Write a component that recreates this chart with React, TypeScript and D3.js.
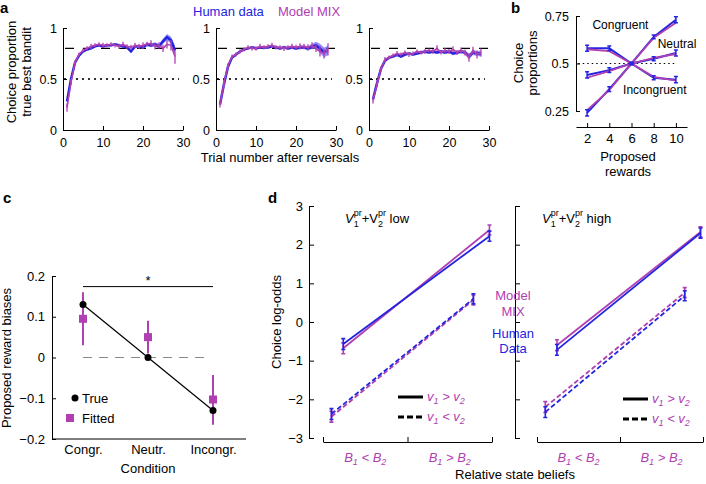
import React, { useEffect, useRef } from 'react';
import * as d3 from 'd3';

const FONT = "'Liberation Sans', Arial, Helvetica, sans-serif";
const BLUE = '#2424e0';
const PURPLE = '#b040b2';
const BAND = '#6a6aff';

// ---- panel a: choice proportion of the true best bandit, 3 sessions ----
const trials = d3.range(1, 29);
const humanA1 = [0.28, 0.5, 0.66, 0.73, 0.77, 0.79, 0.8, 0.82, 0.83, 0.82, 0.83, 0.83, 0.84, 0.83, 0.82, 0.81, 0.77, 0.82, 0.82, 0.81, 0.84, 0.83, 0.84, 0.82, 0.87, 0.91, 0.88, 0.78];
const semA1 = [0.02, 0.02, 0.015, 0.015, 0.012, 0.012, 0.012, 0.012, 0.012, 0.012, 0.012, 0.012, 0.013, 0.013, 0.014, 0.014, 0.015, 0.015, 0.016, 0.016, 0.017, 0.018, 0.02, 0.022, 0.025, 0.03, 0.035, 0.045];
const modelA1 = [0.22, 0.47, 0.66, 0.74, 0.78, 0.8, 0.82, 0.83, 0.84, 0.83, 0.83, 0.84, 0.83, 0.82, 0.84, 0.82, 0.81, 0.83, 0.82, 0.83, 0.84, 0.85, 0.82, 0.83, 0.8, 0.84, 0.83, 0.72];
const errA1 = [0.04, 0.03, 0.025, 0.02, 0.02, 0.02, 0.025, 0.02, 0.02, 0.025, 0.02, 0.02, 0.02, 0.025, 0.025, 0.02, 0.025, 0.025, 0.025, 0.03, 0.025, 0.03, 0.03, 0.03, 0.035, 0.04, 0.05, 0.07];

const humanA2 = [0.25, 0.45, 0.62, 0.71, 0.74, 0.77, 0.79, 0.8, 0.81, 0.8, 0.81, 0.81, 0.81, 0.82, 0.81, 0.8, 0.81, 0.8, 0.81, 0.8, 0.81, 0.81, 0.8, 0.82, 0.83, 0.8, 0.76, 0.78];
const semA2 = [0.02, 0.02, 0.015, 0.012, 0.012, 0.012, 0.012, 0.012, 0.012, 0.012, 0.012, 0.012, 0.013, 0.013, 0.013, 0.014, 0.014, 0.015, 0.015, 0.016, 0.017, 0.018, 0.02, 0.025, 0.035, 0.045, 0.05, 0.045];
const modelA2 = [0.25, 0.46, 0.63, 0.72, 0.74, 0.77, 0.79, 0.81, 0.8, 0.8, 0.82, 0.81, 0.82, 0.83, 0.81, 0.81, 0.8, 0.81, 0.82, 0.81, 0.82, 0.82, 0.81, 0.83, 0.8, 0.77, 0.75, 0.79];
const errA2 = [0.03, 0.03, 0.025, 0.02, 0.02, 0.02, 0.02, 0.02, 0.02, 0.02, 0.025, 0.02, 0.02, 0.025, 0.02, 0.02, 0.025, 0.02, 0.025, 0.025, 0.03, 0.025, 0.03, 0.03, 0.035, 0.05, 0.05, 0.06];

const humanA3 = [0.3, 0.46, 0.6, 0.68, 0.71, 0.72, 0.74, 0.72, 0.74, 0.75, 0.74, 0.75, 0.76, 0.77, 0.76, 0.77, 0.76, 0.77, 0.76, 0.77, 0.75, 0.76, 0.77, 0.76, 0.72, 0.76, 0.75, 0.75];
const semA3 = [0.02, 0.02, 0.015, 0.015, 0.012, 0.012, 0.012, 0.012, 0.012, 0.012, 0.012, 0.012, 0.013, 0.013, 0.013, 0.014, 0.014, 0.015, 0.015, 0.016, 0.016, 0.017, 0.018, 0.02, 0.03, 0.025, 0.025, 0.03];
const modelA3 = [0.29, 0.45, 0.6, 0.69, 0.71, 0.73, 0.75, 0.74, 0.76, 0.74, 0.75, 0.77, 0.76, 0.77, 0.78, 0.77, 0.8, 0.76, 0.78, 0.77, 0.79, 0.76, 0.78, 0.76, 0.71, 0.78, 0.74, 0.76];
const errA3 = [0.03, 0.03, 0.025, 0.025, 0.02, 0.02, 0.025, 0.02, 0.02, 0.025, 0.02, 0.02, 0.02, 0.025, 0.02, 0.025, 0.03, 0.02, 0.025, 0.025, 0.03, 0.025, 0.03, 0.03, 0.04, 0.035, 0.04, 0.04];

// ---- panel b: choice proportions vs proposed rewards ----
const rewards = [2, 4, 6, 8, 10];
const bRiseHuman = [0.24, 0.365, 0.5, 0.64, 0.73];
const bRiseModel = [0.255, 0.36, 0.5, 0.635, 0.715];
const bNeutHuman = [0.44, 0.465, 0.5, 0.525, 0.555];
const bNeutModel = [0.425, 0.46, 0.5, 0.53, 0.55];
const bFallHuman = [0.58, 0.58, 0.5, 0.425, 0.415];
const bFallModel = [0.575, 0.565, 0.5, 0.43, 0.41];
const bErr = [0.016, 0.012, 0.005, 0.01, 0.016];

// ---- panel c: proposed reward biases ----
const conditions = ['Congr.', 'Neutr.', 'Incongr.'];
const trueBias = [0.13, 0, -0.13];
const fittedBias = [0.095, 0.05, -0.103];
const fittedLow = [0.03, 0.01, -0.165];
const fittedHigh = [0.16, 0.09, -0.043];

// ---- panel d: choice log-odds ----
const beliefs = ['B1 < B2', 'B1 > B2'];
const dLowSolidHuman = [-0.57, 2.22];
const dLowSolidModel = [-0.68, 2.38];
const dLowDashHuman = [-2.38, 0.6];
const dLowDashModel = [-2.45, 0.57];
const dHighSolidHuman = [-0.72, 2.3];
const dHighSolidModel = [-0.6, 2.33];
const dHighDashHuman = [-2.33, 0.68];
const dHighDashModel = [-2.2, 0.76];
const dErr = [0.14, 0.13];

const styleAxis = (g: any, size: number) => {
  g.attr('font-family', FONT).attr('font-size', size);
  g.selectAll('path.domain, .tick line').attr('stroke', '#000').attr('stroke-width', 1);
  g.selectAll('text').attr('fill', '#000');
};

const App = () => {
  const svgRef = useRef<SVGSVGElement>(null);

  useEffect(() => {
    const svg = d3.select(svgRef.current);
    svg.selectAll('*').remove();
    svg.attr('font-family', FONT);

    // ================= panel a =================
    const yA = d3.scaleLinear().domain([0, 1]).range([130, 28]);
    const subs = [
      { x0: 63, human: humanA1, sem: semA1, model: modelA1, err: errA1 },
      { x0: 216, human: humanA2, sem: semA2, model: modelA2, err: errA2 },
      { x0: 369, human: humanA3, sem: semA3, model: modelA3, err: errA3 },
    ];
    subs.forEach(s => {
      const xA = d3.scaleLinear().domain([0, 30]).range([s.x0, s.x0 + 120]);
      const g = svg.append('g');

      // reference lines
      g.append('line').attr('x1', xA(0.5)).attr('x2', xA(30)).attr('y1', yA(0.8)).attr('y2', yA(0.8))
        .attr('stroke', '#000').attr('stroke-width', 1.2).attr('stroke-dasharray', '9,9');
      g.append('line').attr('x1', xA(0.3)).attr('x2', xA(29)).attr('y1', yA(0.5)).attr('y2', yA(0.5))
        .attr('stroke', '#000').attr('stroke-width', 2).attr('stroke-dasharray', '1.6,4.4');

      // human band + line
      const area = d3.area<number>()
        .x(t => xA(t))
        .y0((t, i) => yA(s.human[i] - s.sem[i]))
        .y1((t, i) => yA(s.human[i] + s.sem[i]));
      g.append('path').datum(trials).attr('d', area).attr('fill', BAND).attr('opacity', 0.75);
      const lineH = d3.line<number>().x(t => xA(t)).y((t, i) => yA(s.human[i]));
      g.append('path').datum(trials).attr('d', lineH).attr('fill', 'none').attr('stroke', BLUE).attr('stroke-width', 2.5);

      // model line + error bars
      const lineM = d3.line<number>().x(t => xA(t)).y((t, i) => yA(s.model[i]));
      g.selectAll('.errA').data(trials).enter().append('line')
        .attr('x1', t => xA(t)).attr('x2', t => xA(t))
        .attr('y1', (t, i) => yA(s.model[i] - s.err[i]))
        .attr('y2', (t, i) => yA(s.model[i] + s.err[i]))
        .attr('stroke', PURPLE).attr('stroke-width', 1.3);
      g.append('path').datum(trials).attr('d', lineM).attr('fill', 'none').attr('stroke', PURPLE).attr('stroke-width', 1.6);

      // axes
      g.append('g').attr('transform', `translate(${s.x0},0)`)
        .call(d3.axisLeft(yA).tickValues([0, 0.5, 1]).tickFormat(d => String(d)).tickSizeInner(-4).tickSizeOuter(0).tickPadding(6))
        .call(a => styleAxis(a, 12.5));
      g.append('g').attr('transform', 'translate(0,130)')
        .call(d3.axisBottom(xA).tickValues([0, 10, 20, 30]).tickFormat(d => String(d)).tickSizeInner(-4).tickSizeOuter(0).tickPadding(8))
        .call(a => styleAxis(a, 12.5));
    });

    svg.append('text').attr('x', 0).attr('y', 13).attr('font-size', 15).attr('font-weight', 'bold').text('a');
    svg.append('text').attr('transform', 'translate(16,72) rotate(-90)').attr('text-anchor', 'middle')
      .attr('font-size', 13).text('Choice proportion');
    svg.append('text').attr('transform', 'translate(31,72) rotate(-90)').attr('text-anchor', 'middle')
      .attr('font-size', 13).text('true best bandit');
    svg.append('text').attr('x', 280).attr('y', 162).attr('text-anchor', 'middle').attr('font-size', 13)
      .text('Trial number after reversals');
    svg.append('text').attr('x', 193).attr('y', 16).attr('font-size', 13).attr('fill', BLUE).text('Human data');
    svg.append('text').attr('x', 278).attr('y', 16).attr('font-size', 13).attr('fill', PURPLE).text('Model MIX');

    // ================= panel b =================
    const xB = d3.scaleLinear().domain([1, 11]).range([576, 687]);
    const yB = d3.scaleLinear().domain([0.25, 0.75]).range([111, 16]);
    const gb = svg.append('g');
    gb.append('line').attr('x1', xB(1.2)).attr('x2', xB(10)).attr('y1', yB(0.5)).attr('y2', yB(0.5))
      .attr('stroke', '#000').attr('stroke-width', 1).attr('stroke-dasharray', '1.5,3');
    const lineB = (vals: number[]) => d3.line<number>().x(r => xB(r)).y((r, i) => yB(vals[i]))(rewards);
    [bRiseHuman, bNeutHuman, bFallHuman].forEach(v => {
      gb.append('path').attr('d', lineB(v)).attr('fill', 'none').attr('stroke', BLUE).attr('stroke-width', 2);
    });
    [bRiseModel, bNeutModel, bFallModel].forEach(v => {
      gb.append('path').attr('d', lineB(v)).attr('fill', 'none').attr('stroke', PURPLE).attr('stroke-width', 1.8);
    });
    [bRiseHuman, bNeutHuman, bFallHuman].forEach(v => {
      rewards.forEach((r, i) => {
        const x = xB(r), lo = yB(v[i] - bErr[i]), hi = yB(v[i] + bErr[i]);
        gb.append('path').attr('d', `M${x},${lo}V${hi}M${x - 2},${lo}H${x + 2}M${x - 2},${hi}H${x + 2}`)
          .attr('stroke', BLUE).attr('stroke-width', 1.5).attr('fill', 'none');
      });
    });
    gb.append('g').attr('transform', 'translate(576,0)')
      .call(d3.axisLeft(yB).tickValues([0.25, 0.5, 0.75]).tickFormat(d => String(d)).tickSizeInner(-4).tickSizeOuter(0).tickPadding(7))
      .call(a => styleAxis(a, 12.5));
    gb.append('g').attr('transform', 'translate(0,127)')
      .call(d3.axisBottom(xB).tickValues(rewards).tickFormat(d => String(d)).tickSizeInner(-4).tickSizeOuter(0).tickPadding(7))
      .call(a => styleAxis(a, 13));
    gb.append('text').attr('x', xB(5)).attr('y', yB(0.703) + 4).attr('text-anchor', 'middle').attr('font-size', 12).text('Congruent');
    gb.append('text').attr('x', xB(10.1)).attr('y', yB(0.603) + 4).attr('text-anchor', 'middle').attr('font-size', 12).text('Neutral');
    gb.append('text').attr('x', xB(8.1)).attr('y', yB(0.36) + 4).attr('text-anchor', 'middle').attr('font-size', 12).text('Incongruent');
    svg.append('text').attr('x', 511).attr('y', 13).attr('font-size', 15).attr('font-weight', 'bold').text('b');
    svg.append('text').attr('transform', 'translate(523,63) rotate(-90)').attr('text-anchor', 'middle').attr('font-size', 13).text('Choice');
    svg.append('text').attr('transform', 'translate(537,63) rotate(-90)').attr('text-anchor', 'middle').attr('font-size', 13).text('proportions');
    svg.append('text').attr('x', 628).attr('y', 161).attr('text-anchor', 'middle').attr('font-size', 13).text('Proposed');
    svg.append('text').attr('x', 628).attr('y', 176).attr('text-anchor', 'middle').attr('font-size', 13).text('rewards');

    // ================= panel c =================
    const xC = d3.scalePoint<string>().domain(conditions).range([83, 213]);
    const yC = d3.scaleLinear().domain([-0.2, 0.2]).range([439, 276]);
    const gc = svg.append('g');
    gc.append('line').attr('x1', xC('Congr.')!).attr('x2', 208).attr('y1', yC(0)).attr('y2', yC(0))
      .attr('stroke', '#888').attr('stroke-width', 1.2).attr('stroke-dasharray', '9,7');
    gc.append('line').attr('x1', xC('Congr.')!).attr('x2', xC('Incongr.')!).attr('y1', yC(0.174)).attr('y2', yC(0.174))
      .attr('stroke', '#000').attr('stroke-width', 1);
    gc.append('text').attr('x', xC('Neutr.')!).attr('y', yC(0.174) - 2).attr('text-anchor', 'middle').attr('font-size', 13).text('*');
    gc.append('path').datum(conditions)
      .attr('d', d3.line<string>().x(c => xC(c)!).y((c, i) => yC(trueBias[i])))
      .attr('fill', 'none').attr('stroke', '#000').attr('stroke-width', 1.2);
    gc.selectAll('.errC').data(conditions).enter().append('line')
      .attr('x1', c => xC(c)!).attr('x2', c => xC(c)!)
      .attr('y1', (c, i) => yC(fittedLow[i])).attr('y2', (c, i) => yC(fittedHigh[i]))
      .attr('stroke', PURPLE).attr('stroke-width', 2);
    gc.selectAll('.sq').data(conditions).enter().append('rect')
      .attr('x', c => xC(c)! - 4).attr('y', (c, i) => yC(fittedBias[i]) - 4)
      .attr('width', 8).attr('height', 8).attr('fill', PURPLE);
    gc.selectAll('.dot').data(conditions).enter().append('circle')
      .attr('cx', c => xC(c)!).attr('cy', (c, i) => yC(trueBias[i])).attr('r', 3.5).attr('fill', '#000');
    gc.append('g').attr('transform', 'translate(52,0)')
      .call(d3.axisLeft(yC).tickValues([-0.2, -0.1, 0, 0.1, 0.2]).tickFormat(d3.format('')).tickSizeInner(-4).tickSizeOuter(0).tickPadding(7))
      .call(a => styleAxis(a, 13));
    const axC = gc.append('g').attr('transform', 'translate(0,439)')
      .call(d3.axisBottom(xC).tickSizeInner(0).tickSizeOuter(0).tickPadding(6))
      .call(a => styleAxis(a, 13));
    axC.select('path.domain').remove();
    gc.append('line').attr('x1', 52).attr('x2', 246).attr('y1', 439).attr('y2', 439).attr('stroke', '#000');
    // legend
    gc.append('circle').attr('cx', 75).attr('cy', 398).attr('r', 3.5).attr('fill', '#000');
    gc.append('text').attr('x', 82).attr('y', 403).attr('font-size', 13).text('True');
    gc.append('rect').attr('x', 66).attr('y', 414).attr('width', 8).attr('height', 8).attr('fill', PURPLE);
    gc.append('text').attr('x', 82).attr('y', 423).attr('font-size', 13).text('Fitted');
    svg.append('text').attr('x', 3).attr('y', 203).attr('font-size', 15).attr('font-weight', 'bold').text('c');
    svg.append('text').attr('transform', 'translate(11,358) rotate(-90)').attr('text-anchor', 'middle').attr('font-size', 13).text('Proposed reward biases');
    svg.append('text').attr('x', 148).attr('y', 473).attr('text-anchor', 'middle').attr('font-size', 13).text('Condition');

    // ================= panel d =================
    const yD = d3.scaleLinear().domain([-3, 3]).range([438, 206]);
    const subScript = (t: any, parts: [string, string, string, string, string]) => {
      // parts: letter, sub, op, letter, sub
      t.append('tspan').text(parts[0]);
      t.append('tspan').attr('font-size', 9).attr('dy', 3).text(parts[1]);
      t.append('tspan').attr('dy', -3).text(parts[2]);
      t.append('tspan').text(parts[3]);
      t.append('tspan').attr('font-size', 9).attr('dy', 3).text(parts[4]);
    };
    const dPanels = [
      { x0: 309, xa: 323, xb: 492, label: 'low', sh: dLowSolidHuman, sm: dLowSolidModel, dh: dLowDashHuman, dm: dLowDashModel, tx: 345, lx: 398, ly: 397, labels: true },
      { x0: 515, xa: 537, xb: 703, label: 'high', sh: dHighSolidHuman, sm: dHighSolidModel, dh: dHighDashHuman, dm: dHighDashModel, tx: 542, lx: 623, ly: 399, labels: false },
    ];
    dPanels.forEach(p => {
      const xD = d3.scaleLinear().domain([0, 2]).range([p.xa, p.xb]);
      const solidX = [0.24, 1.97];
      const dashX = [0.1, 1.78];
      const g = svg.append('g');
      const drawSeries = (xs: number[], vals: number[], color: string, dashed: boolean) => {
        g.append('path').datum(vals)
          .attr('d', d3.line<number>().x((v, i) => xD(xs[i])).y(v => yD(v)))
          .attr('fill', 'none').attr('stroke', color).attr('stroke-width', 1.8)
          .attr('stroke-dasharray', dashed ? '5,2.5' : null);
        vals.forEach((v, i) => {
          const x = xD(xs[i]), lo = yD(v - dErr[i]), hi = yD(v + dErr[i]);
          g.append('path').attr('d', `M${x},${lo}V${hi}M${x - 2},${lo}H${x + 2}M${x - 2},${hi}H${x + 2}`)
            .attr('stroke', color).attr('stroke-width', 1.6).attr('fill', 'none');
        });
      };
      drawSeries(dashX, p.dm, PURPLE, true);
      drawSeries(dashX, p.dh, BLUE, true);
      drawSeries(solidX, p.sm, PURPLE, false);
      drawSeries(solidX, p.sh, BLUE, false);

      const ay = g.append('g').attr('transform', `translate(${p.x0},0)`)
        .call(d3.axisLeft(yD).tickValues([-3, -2, -1, 0, 1, 2, 3]).tickFormat(d3.format('')).tickSizeInner(-5).tickSizeOuter(0).tickPadding(6))
        .call(a => styleAxis(a, 13));
      if (!p.labels) ay.selectAll('text').remove();
      g.append('g').attr('transform', 'translate(0,442)')
        .call(d3.axisBottom(xD).tickValues([0, 1, 2]).tickFormat(() => '').tickSizeInner(-5).tickSizeOuter(0))
        .call(a => styleAxis(a, 13));
      beliefs.forEach((b, i) => {
        const t = g.append('text').attr('x', xD(0.5 + i)).attr('y', 462).attr('text-anchor', 'middle')
          .attr('font-size', 13).attr('font-style', 'italic').attr('fill', PURPLE);
        subScript(t, ['B', '1', b.includes('<') ? ' <  ' : ' > ', 'B', '2']);
      });

      // title with sub/superscripts
      const tt = g.append('text').attr('x', p.tx).attr('y', 223).attr('font-size', 13).attr('fill', '#000');
      tt.append('tspan').attr('font-style', 'italic').text('V');
      tt.append('tspan').attr('font-size', 9).attr('dy', 4).text('1');
      tt.append('tspan').attr('font-size', 9).attr('dx', -5).attr('dy', -11).text('pr');
      tt.append('tspan').attr('dy', 7).text('+V');
      tt.append('tspan').attr('font-size', 9).attr('dy', 4).text('2');
      tt.append('tspan').attr('font-size', 9).attr('dx', -5).attr('dy', -11).text('pr');
      tt.append('tspan').attr('dy', 7).text(` ${p.label}`);

      // legend
      g.append('line').attr('x1', p.lx).attr('x2', p.lx + 25).attr('y1', p.ly).attr('y2', p.ly)
        .attr('stroke', '#000').attr('stroke-width', 3);
      g.append('line').attr('x1', p.lx).attr('x2', p.lx + 25).attr('y1', p.ly + 20).attr('y2', p.ly + 20)
        .attr('stroke', '#000').attr('stroke-width', 3).attr('stroke-dasharray', '6,3');
      const l1 = g.append('text').attr('x', p.lx + 29).attr('y', p.ly + 4).attr('font-size', 13).attr('font-style', 'italic').attr('fill', PURPLE);
      subScript(l1, ['v', '1', ' > ', 'v', '2']);
      const l2 = g.append('text').attr('x', p.lx + 29).attr('y', p.ly + 24).attr('font-size', 13).attr('font-style', 'italic').attr('fill', PURPLE);
      subScript(l2, ['v', '1', ' < ', 'v', '2']);
    });
    svg.append('text').attr('x', 268).attr('y', 203).attr('font-size', 15).attr('font-weight', 'bold').text('d');
    svg.append('text').attr('transform', 'translate(281,322) rotate(-90)').attr('text-anchor', 'middle').attr('font-size', 13).text('Choice log-odds');
    svg.append('text').attr('x', 515).attr('y', 479).attr('text-anchor', 'middle').attr('font-size', 13).text('Relative state beliefs');
    const legendD = [['Model', 300, PURPLE], ['MIX', 316, PURPLE], ['Human', 338, BLUE], ['Data', 353, BLUE]];
    legendD.forEach(([t, y, c]) => {
      svg.append('text').attr('x', 513).attr('y', y as number).attr('text-anchor', 'middle')
        .attr('font-size', 13).attr('fill', c as string).text(t as string);
    });
  }, []);

  return (
    <div style={{ position: 'absolute', left: 0, top: 0 }}>
      <svg ref={svgRef} width={706} height={484} style={{ display: 'block', background: '#fff' }}></svg>
    </div>
  );
};

export default App;
